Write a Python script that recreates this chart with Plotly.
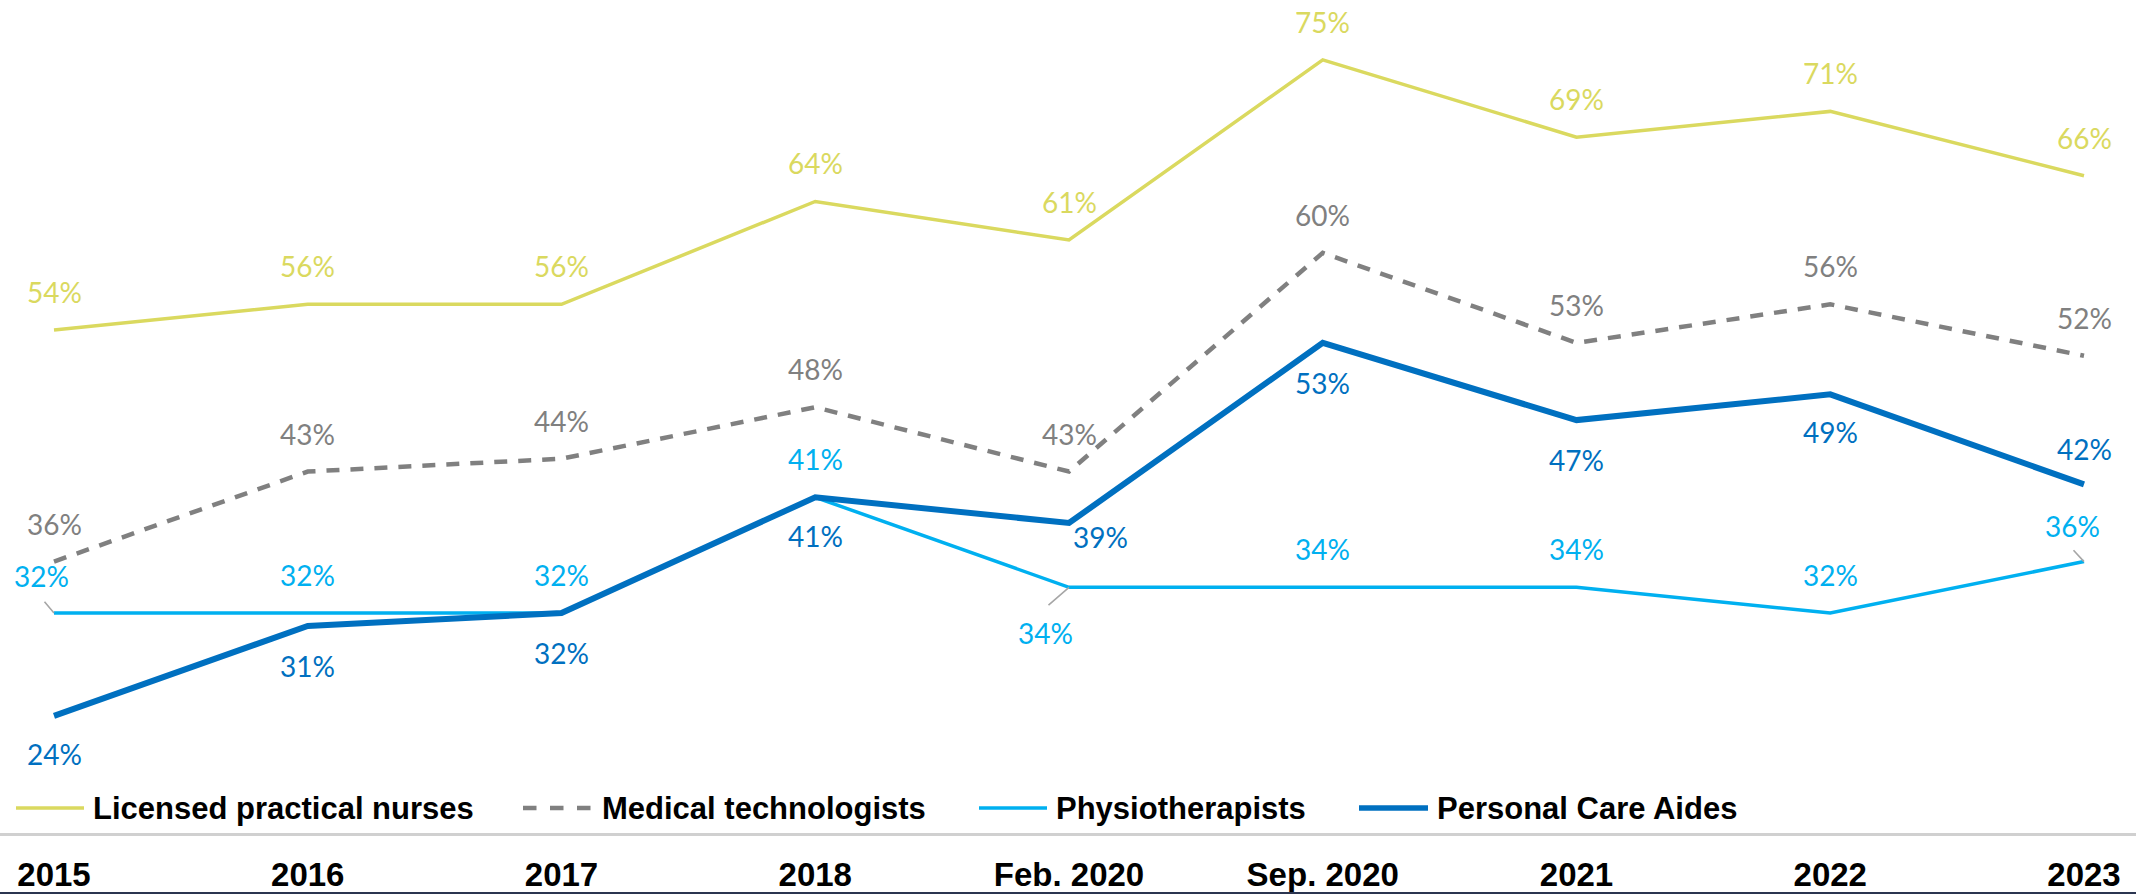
import plotly.graph_objects as go

# survey waves
periods = ["2015", "2016", "2017", "2018", "Feb. 2020", "Sep. 2020", "2021", "2022", "2023"]

# share of respondents, %
lpn = [54, 56, 56, 64, 61, 75, 69, 71, 66]
med_tech = [36, 43, 44, 48, 43, 60, 53, 56, 52]
physio = [32, 32, 32, 41, 34, 34, 34, 32, 36]
pca = [24, 31, 32, 41, 39, 53, 47, 49, 42]

names = ["Licensed practical nurses", "Medical technologists", "Physiotherapists", "Personal Care Aides"]

W, H = 2136, 895
PLOT_H = 833

# style per series: colour, width, dash, label offsets (px: dx, up)
styles = [
    dict(color="#DAD95F", width=3.5, dash="solid", off=[(0, 38)] * 9),
    dict(color="#808080", width=4.5, dash="13px,11px", off=[(0, 38)] * 9),
    dict(color="#00B0F0", width=3.5, dash="solid",
         off=[(-13, 37), (0, 38), (0, 38), (0, 38), (-24, -46), (0, 38), (0, 38), (0, 38), (-12, 36)]),
    dict(color="#0070C0", width=6, dash="solid",
         off=[(0, -38), (0, -40), (0, -40), (0, -39), (31, -14), (0, -40), (0, -40), (0, -38), (0, 35)]),
]
series = [lpn, med_tech, physio, pca]

# leader lines for displaced physio labels: (index, tail dx, tail dy)
leaders = [(0, -11, -13), (4, -22, 19), (8, -12, -13)]

fig = go.Figure()
annotations = []

for name, vals, st in zip(names, series, styles):
    fig.add_trace(go.Scatter(
        x=periods, y=vals, name=name, mode="lines",
        line=dict(color=st["color"], width=st["width"], dash=st["dash"]),
        showlegend=False, hoverinfo="skip",
    ))
    # category axis: annotations placed by category index
    for i, (v, (dx, up)) in enumerate(zip(vals, st["off"])):
        annotations.append(dict(
            x=i, y=v, xref="x", yref="y", text=f"{v}%", showarrow=False,
            xshift=dx, yshift=up,
            font=dict(family="Lato", size=28, color=st["color"]),
        ))

for i, dx, dy in leaders:
    annotations.append(dict(
        x=i, y=physio[i], xref="x", yref="y", text=" ", showarrow=True,
        arrowhead=0, arrowwidth=1.6, arrowcolor="#A6A6A6", ax=dx, ay=dy,
        standoff=0, startstandoff=0, font=dict(size=1),
    ))

# manual legend: line x0, x1, text start (px)
legend_pos = [(16, 84, 91), (523, 593, 600), (979, 1047, 1054), (1359, 1428, 1435)]
leg_y = (PLOT_H - 808) / PLOT_H
shapes = []
for name, st, (x0, x1, xt) in zip(names, styles, legend_pos):
    shapes.append(dict(
        type="line", xref="paper", yref="paper", x0=x0 / W, x1=x1 / W, y0=leg_y, y1=leg_y,
        line=dict(color=st["color"], width=st["width"] if st["width"] < 5 else 5.5,
                  dash="dash" if st["dash"] != "solid" else "solid"),
    ))
    annotations.append(dict(
        x=xt / W, y=leg_y, xref="paper", yref="paper", text=f"<b>{name}</b>",
        showarrow=False, xanchor="left", yanchor="middle",
        font=dict(family="Liberation Sans", size=31, color="#000000"),
    ))

# bottom frame line
shapes.append(dict(
    type="line", xref="paper", yref="paper", x0=0, x1=1,
    y0=-(893 - PLOT_H) / PLOT_H, y1=-(893 - PLOT_H) / PLOT_H,
    line=dict(color="#2B3550", width=2),
))

step = (2084 - 54) / 8
fig.update_layout(
    width=W, height=H,
    margin=dict(l=0, r=0, t=0, b=H - PLOT_H),
    plot_bgcolor="white", paper_bgcolor="white",
    annotations=annotations, shapes=shapes,
    xaxis=dict(
        type="category", range=[-54 / step, 8 + (W - 2084) / step],
        showgrid=False, zeroline=False,
        showline=True, linecolor="#D0D0D0", linewidth=3,
        ticks="outside", ticklen=10, tickcolor="rgba(0,0,0,0)",
        tickfont=dict(family="Liberation Sans", size=33, color="#000000"),
        tickvals=periods, ticktext=[f"<b>{p}</b>" for p in periods],
    ),
    yaxis=dict(
        range=[14.90, 79.66], visible=False, showgrid=False, zeroline=False,
    ),
)

# drop the default page margin so the chart sits at the window's corner
fig.write_html(
    "out.html",
    config={"displayModeBar": False},
    post_script="document.body.style.margin='0';document.body.style.overflow='hidden';",
)
